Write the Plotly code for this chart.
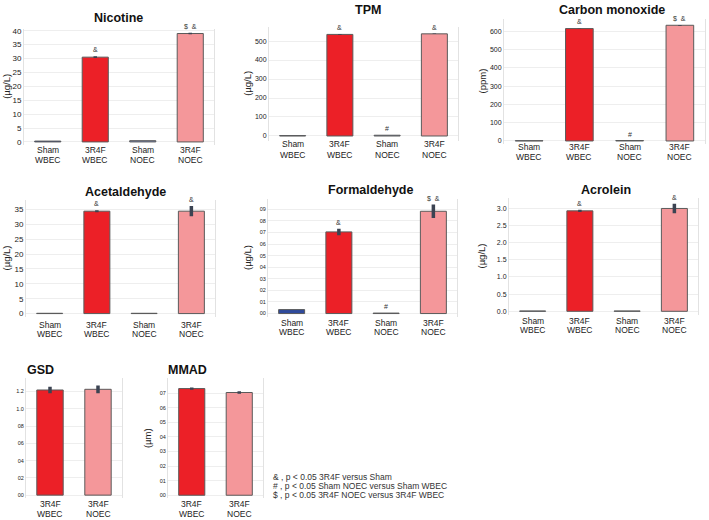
import plotly.graph_objects as go

W, H = 709, 520

# ---------------- data ----------------
cats4 = ["Sham<br>WBEC", "3R4F<br>WBEC", "Sham<br>NOEC", "3R4F<br>NOEC"]
cats2 = ["3R4F<br>WBEC", "3R4F<br>NOEC"]
colors4 = ["#2f4a9c", "#ec2027", "#7d8fc0", "#f4979a"]
colors2 = ["#ec2027", "#f4979a"]

nicotine = [0.3, 30.5, 0.45, 39.0]
nicotine_err = [0.0, 0.3, 0.0, 0.3]
nicotine_sig = ["", "&", "", "$  &"]

tpm = [2.0, 535.0, 4.0, 538.0]
tpm_err = [0.0, 1.5, 0.0, 1.5]
tpm_sig = ["", "&", "#", "&"]

co = [1.5, 614.0, 2.5, 632.0]
co_err = [0.0, 1.0, 0.0, 2.0]
co_sig = ["", "&", "#", "$  &"]

acetaldehyde = [0.1, 34.4, 0.1, 34.4]
acetaldehyde_err = [0.0, 0.35, 0.0, 1.7]
acetaldehyde_sig = ["", "&", "", "&"]

formaldehyde = [0.034, 0.705, 0.004, 0.883]
formaldehyde_err = [0.0, 0.028, 0.0, 0.058]
formaldehyde_sig = ["", "&", "#", "$  &"]

acrolein = [0.01, 2.92, 0.01, 2.99]
acrolein_err = [0.0, 0.03, 0.0, 0.14]
acrolein_sig = ["", "&", "", "&"]

gsd = [1.218, 1.226]
gsd_err = [0.038, 0.045]

mmad = [0.732, 0.705]
mmad_err = [0.008, 0.008]

formaldehyde_ticks = [0.0, 0.1, 0.2, 0.3, 0.4, 0.5, 0.6, 0.7, 0.8, 0.9]
formaldehyde_ticktext = ["00", "01", "02", "03", "04", "05", "06", "07", "08", "09"]
gsd_ticks = [0.0, 0.2, 0.4, 0.6, 0.8, 1.0, 1.2]
gsd_ticktext = ["00", "02", "04", "06", "08", "1.0", "1.2"]
mmad_ticks = [0.0, 0.1, 0.2, 0.3, 0.4, 0.5, 0.6, 0.7]
mmad_ticktext = ["00", "01", "02", "03", "04", "05", "06", "07"]

legend_lines = [
    "& , p < 0.05 3R4F versus Sham",
    "# , p < 0.05 Sham NOEC versus Sham WBEC",
    "$ , p < 0.05 3R4F NOEC versus 3R4F WBEC",
]

# ---------------- panel layout (pixels) ----------------
panels = [
    dict(name="Nicotine", cats=cats4, vals=nicotine, err=nicotine_err, sig=nicotine_sig, colors=colors4,
         box=(24, 214, 27, 144), yr=(-1.07, 40.7), dtick=5, tfs=8, lab=(149, 159),
         title=(119, 16), ylab="(µg/L)", ylabx=7),
    dict(name="TPM", cats=cats4, vals=tpm, err=tpm_err, sig=tpm_sig, colors=colors4,
         box=(269, 458, 25, 140), yr=(-26, 575), dtick=100, tfs=7, lab=(143.5, 154),
         title=(368, 8), ylab="(µg/L)", ylabx=248),
    dict(name="Carbon monoxide", cats=cats4, vals=co, err=co_err, sig=co_sig, colors=colors4,
         box=(504, 705, 17, 143), yr=(-16, 667), dtick=100, tfs=7, lab=(146, 156.5),
         title=(612, 8), ylab="(ppm)", ylabx=482),
    dict(name="Acetaldehyde", cats=cats4, vals=acetaldehyde, err=acetaldehyde_err, sig=acetaldehyde_sig, colors=colors4,
         box=(26, 215, 200, 317), yr=(-1.0, 38.0), dtick=5, tfs=8, lab=(325, 334.5),
         title=(125, 191), ylab="(µg/L)", ylabx=7),
    dict(name="Formaldehyde", cats=cats4, vals=formaldehyde, err=formaldehyde_err, sig=formaldehyde_sig, colors=colors4,
         box=(268, 457, 199, 317), yr=(-0.026, 0.985), ticks=(formaldehyde_ticks, formaldehyde_ticktext), tfs=5.5,
         lab=(323, 333), title=(370, 189), ylab="(µg/L)", ylabx=247),
    dict(name="Acrolein", cats=cats4, vals=acrolein, err=acrolein_err, sig=acrolein_sig, colors=colors4,
         box=(509, 698, 198, 315), yr=(-0.095, 3.28), dtick=0.5, fmt=".1f", tfs=7, lab=(321, 331),
         title=(606, 189), ylab="(µg/L)", ylabx=482),
    dict(name="GSD", cats=cats2, vals=gsd, err=gsd_err, sig=["", ""], colors=colors2,
         box=(26, 122, 379, 500), yr=(-0.035, 1.356), ticks=(gsd_ticks, gsd_ticktext), tfs=5.5,
         lab=(506, 515.5), title=(40, 371), ylab=None, ylabx=0),
    dict(name="MMAD", cats=cats2, vals=mmad, err=mmad_err, sig=["", ""], colors=colors2,
         box=(168, 263, 379, 500), yr=(-0.02, 0.804), ticks=(mmad_ticks, mmad_ticktext), tfs=5.5,
         lab=(506, 515.5), title=(188, 371), ylab="(µm)", ylabx=147),
]

FONT = "Liberation Sans, Arial, sans-serif"
fig = go.Figure()
annotations = []
layout = {}

for i, p in enumerate(panels):
    n = "" if i == 0 else str(i + 1)
    xa, ya = "x" + n, "y" + n
    l, r, t, b = p["box"]
    fig.add_trace(go.Bar(
        x=p["cats"], y=p["vals"], xaxis=xa, yaxis=ya,
        marker=dict(color=p["colors"], line=dict(color="#5a5a5a", width=1)),
        width=0.55,
        error_y=dict(type="data", array=p["err"], color="#3b4352", thickness=3.5, width=0),
        showlegend=False, hoverinfo="x+y",
    ))
    xaxis = dict(domain=[l / W, r / W], anchor=ya, showgrid=False, showline=False, zeroline=False,
                 ticks="", showticklabels=False, fixedrange=True)
    yaxis = dict(domain=[1 - b / H, 1 - t / H], anchor=xa, range=list(p["yr"]),
                 showgrid=True, gridcolor="#eeeeee", gridwidth=1, zeroline=False,
                 showline=True, mirror=True, linecolor="#e2e2e2", linewidth=1,
                 ticks="", tickfont=dict(size=p["tfs"], color="#222", family=FONT), fixedrange=True)
    if "ticks" in p:
        yaxis["tickmode"] = "array"
        yaxis["tickvals"] = p["ticks"][0]
        yaxis["ticktext"] = p["ticks"][1]
    else:
        yaxis["dtick"] = p["dtick"]
        yaxis["tick0"] = 0
        if "fmt" in p:
            yaxis["tickformat"] = p["fmt"]
    layout["xaxis" + n] = xaxis
    layout["yaxis" + n] = yaxis

    # panel title
    annotations.append(dict(text="<b>" + p["name"] + "</b>", x=p["title"][0] / W, y=1 - p["title"][1] / H,
                            xref="paper", yref="paper", showarrow=False, xanchor="center", yanchor="middle",
                            borderpad=0, font=dict(size=12.5, color="#111", family=FONT)))
    # y-axis label
    if p["ylab"]:
        annotations.append(dict(text=p["ylab"], x=p["ylabx"] / W, y=1 - ((t + b) / 2) / H,
                                xref="paper", yref="paper", showarrow=False, textangle=-90,
                                xanchor="center", yanchor="middle", borderpad=0,
                                font=dict(size=9.5, color="#222", family=FONT)))
    # category labels (two lines each)
    for c in p["cats"]:
        for part, ly in zip(c.split("<br>"), p["lab"]):
            annotations.append(dict(text=part, x=c, y=1 - ly / H, xref=xa, yref="paper", showarrow=False,
                                    xanchor="center", yanchor="middle", borderpad=0,
                                    font=dict(size=8.5, color="#222", family=FONT)))
    # significance markers
    for c, v, e, s in zip(p["cats"], p["vals"], p["err"], p["sig"]):
        if s:
            annotations.append(dict(text=s, x=c, y=v + e, xref=xa, yref=ya, showarrow=False,
                                    xanchor="center", yanchor="bottom", yshift=1,
                                    font=dict(size=7, color="#333", family=FONT)))

# significance legend
for k, line in enumerate(legend_lines):
    annotations.append(dict(text=line, x=271 / W, y=1 - (478.5 + 9.4 * k) / H, xref="paper", yref="paper",
                            showarrow=False, xanchor="left", yanchor="middle",
                            font=dict(size=8.5, color="#333", family=FONT)))

fig.update_layout(
    width=W, height=H, margin=dict(l=0, r=0, t=0, b=0),
    paper_bgcolor="white", plot_bgcolor="white",
    bargap=0.45, annotations=annotations,
    font=dict(family=FONT),
    **layout,
)

fig.write_html("out.html", config={"displayModeBar": False},
               post_script="document.body.style.margin='0';document.body.style.overflow='hidden';")
